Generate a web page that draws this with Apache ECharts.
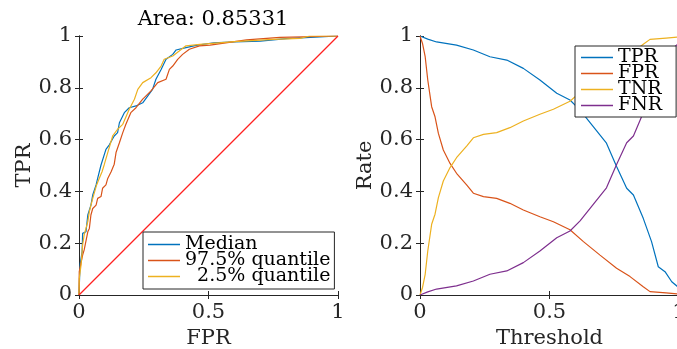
<!DOCTYPE html>
<html>
<head>
<meta charset="utf-8">
<script src="https://cdn.jsdelivr.net/npm/echarts@6/dist/echarts.min.js"></script>
<style>
  html, body { margin: 0; padding: 0; background: #fff; }
  #chart { width: 677px; height: 349px; }
</style>
</head>
<body>
<div id="chart"></div>
<script>
// ROC curves (FPR on x, TPR on y)
const medianFpr = [0, 0.004, 0.012, 0.014, 0.027, 0.034, 0.046, 0.053, 0.066, 0.072, 0.085, 0.104, 0.117, 0.136, 0.149, 0.156, 0.175, 0.194, 0.22, 0.246, 0.265, 0.284, 0.297, 0.317, 0.336, 0.362, 0.375, 0.413, 0.452, 0.52, 0.6, 0.7, 0.8, 0.93, 1];
const medianTpr = [0, 0.116, 0.167, 0.238, 0.244, 0.309, 0.347, 0.386, 0.425, 0.45, 0.502, 0.562, 0.58, 0.614, 0.627, 0.665, 0.704, 0.723, 0.73, 0.742, 0.768, 0.794, 0.833, 0.871, 0.91, 0.929, 0.946, 0.955, 0.964, 0.974, 0.977, 0.98, 0.99, 0.997, 1];

const upperFpr = [0, 0.001, 0.014, 0.02, 0.027, 0.034, 0.04, 0.046, 0.053, 0.066, 0.072, 0.085, 0.091, 0.104, 0.111, 0.124, 0.136, 0.143, 0.156, 0.169, 0.181, 0.2, 0.22, 0.246, 0.278, 0.304, 0.336, 0.349, 0.362, 0.381, 0.4, 0.426, 0.465, 0.506, 0.647, 0.776, 1];
const upperTpr = [0, 0.09, 0.154, 0.174, 0.18, 0.244, 0.257, 0.309, 0.334, 0.347, 0.373, 0.38, 0.412, 0.425, 0.45, 0.476, 0.505, 0.55, 0.588, 0.627, 0.659, 0.704, 0.723, 0.756, 0.788, 0.82, 0.833, 0.871, 0.884, 0.91, 0.929, 0.949, 0.962, 0.965, 0.985, 0.995, 1];

const lowerFpr = [0, 0.001, 0.008, 0.014, 0.02, 0.034, 0.04, 0.053, 0.068, 0.078, 0.089, 0.098, 0.111, 0.13, 0.149, 0.169, 0.194, 0.214, 0.227, 0.246, 0.278, 0.297, 0.317, 0.329, 0.362, 0.387, 0.413, 0.467, 0.6, 0.75, 0.853, 0.89, 1];
const lowerTpr = [0, 0.064, 0.116, 0.193, 0.232, 0.283, 0.322, 0.373, 0.425, 0.45, 0.476, 0.505, 0.55, 0.614, 0.64, 0.659, 0.717, 0.756, 0.794, 0.82, 0.839, 0.858, 0.884, 0.91, 0.923, 0.942, 0.962, 0.968, 0.978, 0.987, 0.991, 1, 1];

const chanceLine = [0, 1];

// rates vs threshold
const tprThr = [0, 0.03, 0.064, 0.141, 0.206, 0.27, 0.335, 0.399, 0.463, 0.528, 0.579, 0.618, 0.669, 0.72, 0.759, 0.798, 0.824, 0.862, 0.894, 0.92, 0.946, 0.972, 1.0];
const tprVals = [1.0, 0.988, 0.977, 0.965, 0.946, 0.92, 0.907, 0.875, 0.83, 0.779, 0.753, 0.714, 0.65, 0.586, 0.496, 0.412, 0.386, 0.296, 0.206, 0.109, 0.09, 0.051, 0.028];
const fnrVals = [0, 0.012, 0.023, 0.035, 0.054, 0.08, 0.093, 0.125, 0.17, 0.221, 0.247, 0.286, 0.35, 0.414, 0.504, 0.588, 0.614, 0.704, 0.794, 0.891, 0.91, 0.949, 0.972];

const fprThr = [0, 0.01, 0.02, 0.03, 0.045, 0.058, 0.071, 0.09, 0.116, 0.141, 0.18, 0.206, 0.245, 0.296, 0.347, 0.399, 0.463, 0.515, 0.579, 0.631, 0.695, 0.759, 0.811, 0.862, 0.888, 0.95, 1.0];
const fprVals = [1.0, 0.97, 0.92, 0.83, 0.727, 0.688, 0.624, 0.56, 0.508, 0.47, 0.425, 0.393, 0.38, 0.373, 0.354, 0.328, 0.302, 0.283, 0.252, 0.206, 0.154, 0.103, 0.071, 0.032, 0.013, 0.008, 0.004];
const tnrVals = [0, 0.03, 0.08, 0.17, 0.273, 0.312, 0.376, 0.44, 0.492, 0.53, 0.575, 0.607, 0.62, 0.627, 0.646, 0.672, 0.698, 0.717, 0.748, 0.794, 0.846, 0.897, 0.929, 0.968, 0.987, 0.992, 0.996];

const titleText = 'Area: 0.85331';

const zip = (xs, ys) => xs.map((x, i) => [x, ys[i]]);

const FONT = 'DejaVu Serif';
const FS = 21;
const AX = '#262626';
const BLUE = '#0072BD', ORANGE = '#D95319', YELLOW = '#EDB120', PURPLE = '#7E2F8E';

const chart = echarts.init(document.getElementById('chart'));

function xAx(grid, name, bottom) {
    return {
        type: 'value', gridIndex: grid, min: 0, max: 1, interval: 0.5,
        position: bottom ? 'bottom' : 'top',
        name: bottom ? name : '', nameLocation: 'middle', nameGap: 24,
        nameTextStyle: { fontFamily: FONT, fontSize: FS, color: AX },
        axisLine: { show: true, lineStyle: { color: AX, width: 1 } },
        axisTick: { show: true, inside: true, length: 4, lineStyle: { color: AX } },
        axisLabel: { show: bottom, fontFamily: FONT, fontSize: FS, color: AX, margin: 7,
                     hideOverlap: false, showMaxLabel: true, showMinLabel: true },
        splitLine: { show: false }
    };
}
function yAx(grid, name, left) {
    return {
        type: 'value', gridIndex: grid, min: 0, max: 1, interval: 0.2,
        position: left ? 'left' : 'right',
        name: left ? name : '', nameLocation: 'middle', nameGap: 42,
        nameTextStyle: { fontFamily: FONT, fontSize: FS, color: AX },
        axisLine: { show: true, lineStyle: { color: AX, width: 1 } },
        axisTick: { show: true, inside: true, length: 4, lineStyle: { color: AX } },
        axisLabel: { show: left, fontFamily: FONT, fontSize: FS, color: AX, margin: 7 },
        splitLine: { show: false }
    };
}

function line(name, data, color, xi, yi) {
    return {
        name: name, type: 'line', data: data, xAxisIndex: xi, yAxisIndex: yi,
        symbol: 'none', showSymbol: false,
        lineStyle: { color: color, width: 1.2 }, itemStyle: { color: color },
        animation: false
    };
}

const legendBase = {
    orient: 'vertical', icon: 'rect',
    itemWidth: 32, itemHeight: 1.5, itemGap: -3,
    backgroundColor: '#fff', borderColor: AX, borderWidth: 1,
    textStyle: { fontFamily: FONT, fontSize: 19, color: '#000' }
};

const option = {
    animation: false,
    title: {
        text: titleText, left: 208, top: 4, textAlign: 'center',
        textStyle: { fontFamily: FONT, fontSize: FS, fontWeight: 'normal', color: '#000' }
    },
    grid: [
        { left: 79, top: 36, width: 259, height: 259, outerBoundsMode: 'none' },
        { left: 420, top: 36, width: 259, height: 259, outerBoundsMode: 'none' }
    ],
    xAxis: [xAx(0, 'FPR', true), xAx(0, '', false), xAx(1, 'Threshold', true), xAx(1, '', false)],
    yAxis: [yAx(0, 'TPR', true), yAx(0, '', false), yAx(1, 'Rate', true), yAx(1, '', false)],
    legend: [
        Object.assign({}, legendBase, {
            data: ['Median', '97.5% quantile', '  2.5% quantile'],
            left: 143, top: 232, padding: [3, 4, 3, 5]
        }),
        Object.assign({}, legendBase, {
            data: ['TPR', 'FPR', 'TNR', 'FNR'],
            left: 575, top: 46, padding: [2, 14, 2, 6]
        })
    ],
    series: [
        line('Median', zip(medianFpr, medianTpr), BLUE, 0, 0),
        line('97.5% quantile', zip(upperFpr, upperTpr), ORANGE, 0, 0),
        line('  2.5% quantile', zip(lowerFpr, lowerTpr), YELLOW, 0, 0),
        line('chance', zip(chanceLine, chanceLine), '#ff2020', 0, 0),
        line('TPR', zip(tprThr, tprVals), BLUE, 2, 2),
        line('FPR', zip(fprThr, fprVals), ORANGE, 2, 2),
        line('TNR', zip(fprThr, tnrVals), YELLOW, 2, 2),
        line('FNR', zip(tprThr, fnrVals), PURPLE, 2, 2)
    ]
};

chart.setOption(option);
</script>
</body>
</html>
